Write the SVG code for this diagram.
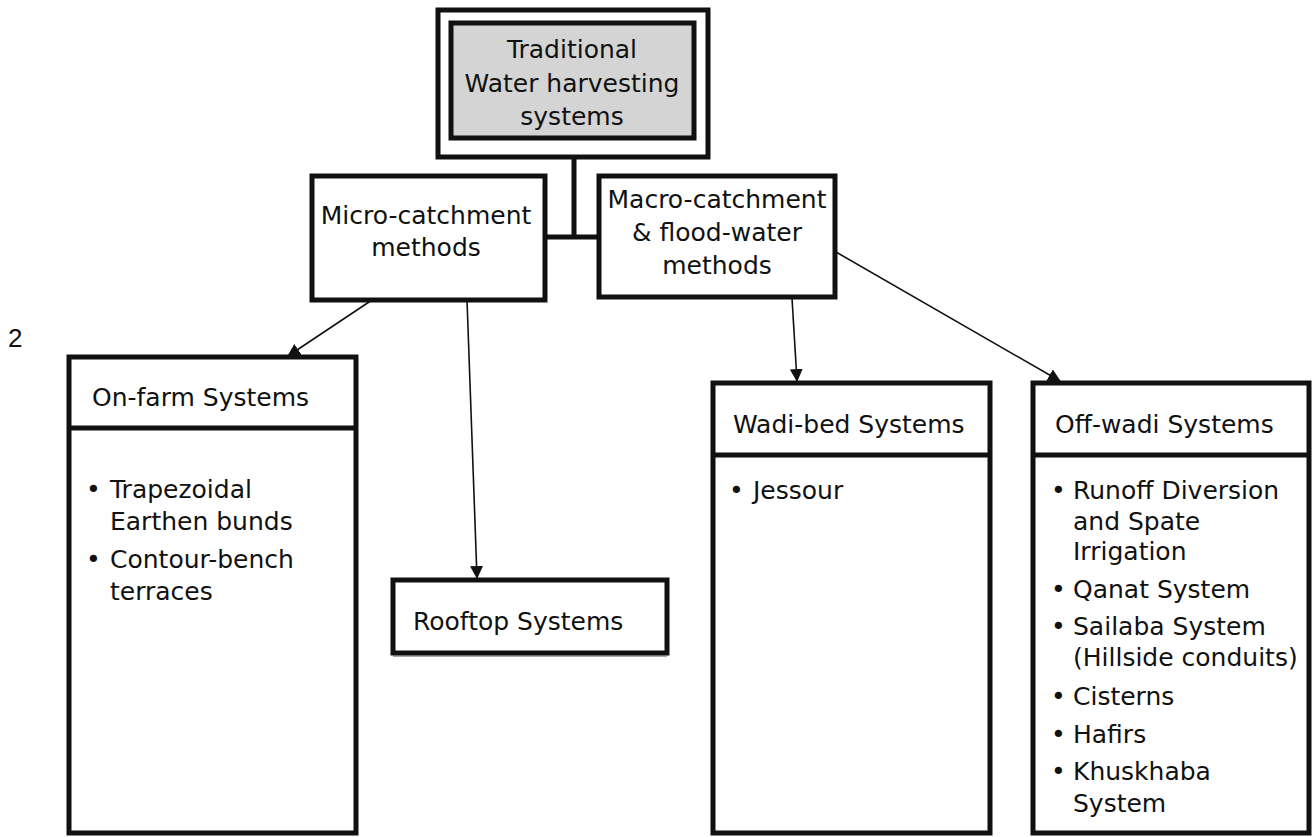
<svg xmlns="http://www.w3.org/2000/svg" width="1314" height="837" viewBox="0 0 1314 837">
<style>
text{font-family:"DejaVu Sans","Liberation Sans",sans-serif;font-size:25px;fill:#111}
.box{fill:#fff;stroke:#111;stroke-width:5}
.c{text-anchor:middle}
.ln{stroke:#111;stroke-width:1.6;fill:none}
.thick{stroke:#111;stroke-width:5;fill:none}
</style>
<defs>
<marker id="ah" markerWidth="13" markerHeight="13" viewBox="0 0 13 13" refX="12" refY="6.5" orient="auto" markerUnits="userSpaceOnUse">
<path d="M0,0 L13,6.5 L0,13 Z" fill="#111"/>
</marker>
</defs>
<rect width="1314" height="837" fill="#fff"/>
<text x="8" y="347" style="font-family:'Liberation Sans',Arial,sans-serif;font-size:26px">2</text>
<g id="connectors">
<path class="thick" d="M574,157 V237 M545,237 H599"/>
<line class="ln" x1="372" y1="300" x2="288" y2="356" marker-end="url(#ah)"/>
<line class="ln" x1="467" y1="300" x2="477" y2="578" marker-end="url(#ah)"/>
<line class="ln" x1="792" y1="298" x2="797" y2="381" marker-end="url(#ah)"/>
<line class="ln" x1="836" y1="252" x2="1060" y2="381" marker-end="url(#ah)"/>
</g>
<g id="root">
<rect class="box" x="438" y="10" width="270" height="147"/>
<rect x="451" y="23" width="243" height="115" fill="#d4d4d4" stroke="#111" stroke-width="5"/>
<text class="c" x="572" y="58">Traditional</text>
<text class="c" x="572" y="92">Water harvesting</text>
<text class="c" x="572" y="125">systems</text>
</g>
<g id="micro">
<rect class="box" x="312" y="176" width="233" height="124"/>
<text class="c" x="426" y="224">Micro-catchment</text>
<text class="c" x="426" y="256">methods</text>
</g>
<g id="macro">
<rect class="box" x="599" y="176" width="236" height="121"/>
<text class="c" x="717" y="208">Macro-catchment</text>
<text class="c" x="717" y="241">&amp; flood-water</text>
<text class="c" x="717" y="274">methods</text>
</g>
<g id="onfarm">
<rect class="box" x="69" y="357" width="287" height="476"/>
<line class="thick" x1="69" y1="428" x2="356" y2="428"/>
<text x="92" y="406">On-farm Systems</text>
<text x="86" y="498">•</text><text x="110" y="498">Trapezoidal</text>
<text x="110" y="530">Earthen bunds</text>
<text x="86" y="568">•</text><text x="110" y="568">Contour-bench</text>
<text x="110" y="600">terraces</text>
</g>
<g id="rooftop">
<rect class="box" x="393" y="580" width="274" height="73"/>
<line x1="393" y1="656" x2="667" y2="656" stroke="#555" stroke-width="1"/>
<text x="413" y="630">Rooftop Systems</text>
</g>
<g id="wadibed">
<rect class="box" x="713" y="383" width="277" height="450"/>
<line class="thick" x1="713" y1="455" x2="990" y2="455"/>
<text x="733" y="433">Wadi-bed Systems</text>
<text x="729" y="499">•</text><text x="753" y="499">Jessour</text>
</g>
<g id="offwadi">
<rect class="box" x="1033" y="383" width="276" height="450"/>
<line class="thick" x1="1033" y1="455" x2="1309" y2="455"/>
<text x="1055" y="433">Off-wadi Systems</text>
<text x="1051" y="499">•</text><text x="1073" y="499">Runoff Diversion</text>
<text x="1073" y="530">and Spate</text>
<text x="1073" y="560">Irrigation</text>
<text x="1051" y="598">•</text><text x="1073" y="598">Qanat System</text>
<text x="1051" y="635">•</text><text x="1073" y="635">Sailaba System</text>
<text x="1073" y="666">(Hillside conduits)</text>
<text x="1051" y="705">•</text><text x="1073" y="705">Cisterns</text>
<text x="1051" y="743">•</text><text x="1073" y="743">Hafirs</text>
<text x="1051" y="780">•</text><text x="1073" y="780">Khuskhaba</text>
<text x="1073" y="812">System</text>
</g>
</svg>
